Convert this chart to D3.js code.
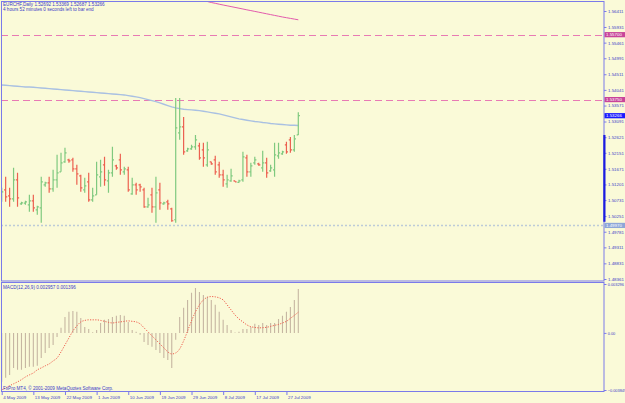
<!DOCTYPE html>
<html>
<head>
<meta charset="utf-8">
<script src="https://cdn.jsdelivr.net/npm/d3@7"></script>
<style>
  body { margin: 0; background: #fafad8; }
  svg { display: block; font-family: "Liberation Sans", Arial, sans-serif; }
</style>
</head>
<body>
<svg id="chart" width="625" height="403"></svg>
<script>

// EURCHF daily bars, 4 May 2009 .. 30 Jul 2009 (broker shows sunday bars)
var dateLabels = ["4 May 2009", "13 May 2009", "22 May 2009", "1 Jun 2009", "10 Jun 2009",
                  "19 Jun 2009", "29 Jun 2009", "8 Jul 2009", "17 Jul 2009", "27 Jul 2009"];
var dateTickBars = [0, 8, 16, 24, 32, 40, 48, 56, 64, 72];

var openP = [1.5080,1.5104,1.5086,1.5077,1.5134,1.5062,1.5064,1.5059,1.5071,1.5044,
  1.5050,1.5119,1.5125,1.5107,1.5134,1.5158,1.5188,1.5194,1.5194,1.5167,
  1.5146,1.5104,1.5128,1.5074,1.5089,1.5143,1.5179,1.5131,1.5155,1.5176,
  1.5194,1.5158,1.5164,1.5092,1.5119,1.5119,1.5104,1.5053,1.5089,1.5053,
  1.5104,1.5062,1.5068,1.5047,1.5014,1.5275,1.5293,1.5221,1.5227,1.5233,
  1.5236,1.5224,1.5179,1.5188,1.5194,1.5179,1.5149,1.5122,1.5131,1.5131,
  1.51265,1.5134,1.5200,1.5158,1.5185,1.5182,1.5170,1.5185,1.5161,1.5164,
  1.5206,1.5212,1.5239,1.5254,1.5224,1.52692];
var highP = [1.5110,1.5143,1.5110,1.5170,1.5155,1.5068,1.5071,1.5089,1.5089,1.5056,
  1.5143,1.5128,1.5143,1.5164,1.5209,1.5215,1.5230,1.5197,1.5200,1.5179,
  1.5149,1.5140,1.5155,1.5110,1.5188,1.5194,1.5203,1.5164,1.5233,1.5179,
  1.5212,1.5173,1.5173,1.5140,1.5125,1.5122,1.5110,1.5080,1.5110,1.5143,
  1.5125,1.5068,1.5074,1.5050,1.5380,1.5380,1.5323,1.5230,1.5239,1.5269,
  1.5245,1.5245,1.5248,1.5188,1.5206,1.5188,1.5164,1.5149,1.5167,1.5131,
  1.5134,1.5218,1.5209,1.5185,1.5203,1.5185,1.5221,1.5200,1.5179,1.5245,
  1.5245,1.5221,1.5248,1.5263,1.5269,1.53369];
var lowP = [1.5068,1.5068,1.5053,1.5068,1.5053,1.5059,1.5059,1.5038,1.5038,1.5029,
  1.5005,1.5113,1.5095,1.5098,1.5110,1.5158,1.5185,1.5185,1.5158,1.5119,
  1.5098,1.5095,1.5068,1.5068,1.5089,1.5113,1.5116,1.5095,1.5143,1.5164,
  1.5149,1.5149,1.5098,1.5089,1.5089,1.5098,1.5050,1.5050,1.5035,1.5005,
  1.5044,1.5059,1.5044,1.5008,1.5005,1.5254,1.5209,1.5218,1.5224,1.5224,
  1.5194,1.5173,1.5173,1.5179,1.5149,1.5140,1.5113,1.5110,1.5128,1.5128,
  1.5125,1.5128,1.5143,1.5143,1.5179,1.5176,1.5158,1.5140,1.5158,1.5143,
  1.5197,1.5209,1.5212,1.5215,1.5218,1.52687];
var closeP = [1.5098,1.5083,1.5077,1.5134,1.5080,1.5065,1.5068,1.5071,1.5050,1.5053,
  1.5128,1.5125,1.5107,1.5134,1.5155,1.5185,1.5215,1.5191,1.5167,1.5152,
  1.5110,1.5116,1.5074,1.5086,1.5149,1.5158,1.5134,1.5155,1.5194,1.5170,
  1.5164,1.5167,1.5104,1.5119,1.5104,1.5113,1.5053,1.5059,1.5053,1.5095,
  1.5065,1.5065,1.5062,1.5011,1.5290,1.5293,1.5218,1.5227,1.5233,1.5254,
  1.5200,1.5200,1.5224,1.5182,1.5158,1.5149,1.5134,1.5134,1.5146,1.5128,
  1.5131,1.5203,1.5158,1.5176,1.5194,1.5179,1.5185,1.5155,1.5170,1.5209,
  1.5215,1.5218,1.5218,1.5224,1.5257,1.53266];

// light blue moving average
var maBlue = [1.5419,1.5418,1.5417,1.5416,1.5415,1.5414,1.5413,1.5413,1.5412,1.5411,
  1.5410,1.5409,1.5408,1.5407,1.5406,1.5405,1.5404,1.5403,1.5402,1.5401,
  1.5400,1.5399,1.5398,1.5397,1.5396,1.5395,1.5394,1.5393,1.5392,1.5391,
  1.5390,1.5389,1.5387,1.5385,1.5383,1.5381,1.5378,1.5375,1.5372,1.5369,
  1.5365,1.5361,1.5357,1.5353,1.5350,1.5348,1.5346,1.5345,1.5344,1.5343,
  1.5342,1.5340,1.5338,1.5336,1.5334,1.5332,1.5329,1.5326,1.5323,1.5320,
  1.5317,1.5315,1.5313,1.5311,1.5309,1.5308,1.5306,1.5305,1.5303,1.5302,
  1.5301,1.5300,1.5299,1.5298,1.5298,1.5297];

// magenta moving average, only the end of it is inside the window
var maPinkStart = 48;
var maPink = [1.56862,1.56817,1.56771,1.56726,1.56696,1.56666,1.56642,1.56615,1.56591,1.56567,
  1.56543,1.56519,1.56495,1.56471,1.56446,1.56423,1.56399,1.56375,1.56351,1.56327,
  1.56303,1.56279,1.56255,1.56231,1.56210,1.56189,1.56168,1.56147];

var levelsPink = [1.55700, 1.53750];
var levelDotted = 1.49970;
var lastPrice = 1.53266;

var priceTicks = [1.56411,1.55931,1.55461,1.54991,1.54511,1.54041,1.53571,1.53091,1.52621,
  1.52151,1.51671,1.51201,1.50731,1.50251,1.49781,1.49311,1.48831,1.48361];

// MACD(12,26,9): main as histogram, signal dotted
var macdMain = [-0.00330,-0.00303,-0.00283,-0.00236,-0.00249,-0.00249,-0.00236,-0.00229,-0.00229,-0.00222,
  -0.00169,-0.00135,-0.00101,-0.00081,-0.00027,0.00034,0.00108,0.00142,0.00148,0.00142,
  0.00101,0.00040,0.00027,0.00005,0.00020,0.00067,0.00088,0.00094,0.00108,0.00115,
  0.00121,0.00115,0.00074,0.00020,0.00008,-0.00013,-0.00061,-0.00081,-0.00094,-0.00115,
  -0.00135,-0.00169,-0.00182,-0.00236,-0.00047,0.00108,0.00169,0.00222,0.00270,0.00303,
  0.00276,0.00256,0.00243,0.00222,0.00189,0.00142,0.00088,0.00054,0.00020,0.00003,
  0.00007,0.00027,0.00027,0.00040,0.00061,0.00054,0.00067,0.00054,0.00067,0.00067,
  0.00094,0.00115,0.00142,0.00175,0.00222,0.002957];
var macdSignal = [-0.00384,-0.00370,-0.00356,-0.00343,-0.00330,-0.00315,-0.00297,-0.00283,-0.00270,-0.00249,
  -0.00236,-0.00222,-0.00209,-0.00189,-0.00169,-0.00128,-0.00081,-0.00034,0.00013,0.00047,
  0.00074,0.00084,0.00088,0.00088,0.00088,0.00084,0.00078,0.00071,0.00067,0.00071,
  0.00074,0.00078,0.00081,0.00078,0.00074,0.00061,0.00034,0.00007,-0.00020,-0.00047,
  -0.00074,-0.00101,-0.00128,-0.00142,-0.00135,-0.00108,-0.00054,0.00013,0.00081,0.00142,
  0.00189,0.00222,0.00240,0.00245,0.00243,0.00236,0.00222,0.00189,0.00155,0.00121,
  0.00094,0.00074,0.00054,0.00042,0.00037,0.00034,0.00035,0.00038,0.00044,0.00051,
  0.00057,0.00067,0.00078,0.00098,0.00118,0.001396];
var macdTicks = [0.003296, 0, -0.003849];

var svg = d3.select("#chart");
var frame = "#7a7aea", txt = "#3c3cc8";

var x = d3.scaleLinear().domain([0, 75]).range([1.7, 298.3]);
var y = d3.scaleLinear().domain([1.48361, 1.56411]).range([279, 11]);
var ym = d3.scaleLinear().domain([-0.003849, 0.003296]).range([390, 284]);

svg.append("rect").attr("width", 625).attr("height", 403).attr("fill", "#fafad8");

var defs = svg.append("defs");
defs.append("clipPath").attr("id", "clipMain")
  .append("rect").attr("x", 1.5).attr("y", 1.5).attr("width", 602.5).attr("height", 279.5);
defs.append("clipPath").attr("id", "clipMacd")
  .append("rect").attr("x", 1.5).attr("y", 282.5).attr("width", 602.5).attr("height", 109);

var main = svg.append("g").attr("clip-path", "url(#clipMain)");

// horizontal levels
main.selectAll("line.lvl")
  .data(levelsPink)
  .enter().append("line")
  .attr("class", "lvl")
  .attr("x1", 1).attr("x2", 604)
  .attr("y1", function(d) { return Math.round(y(d)) + 0.5; })
  .attr("y2", function(d) { return Math.round(y(d)) + 0.5; })
  .attr("stroke", "#e87ab4").attr("stroke-width", 1)
  .attr("stroke-dasharray", "7,4");

main.append("line")
  .attr("x1", 1).attr("x2", 604)
  .attr("y1", y(levelDotted)).attr("y2", y(levelDotted))
  .attr("stroke", "#bccbd8").attr("stroke-width", 1.6)
  .attr("stroke-dasharray", "2,2");

var line = d3.line()
  .x(function(d, i) { return x(i); })
  .y(function(d) { return y(d); });

main.append("path")
  .datum(maBlue)
  .attr("d", line)
  .attr("fill", "none").attr("stroke", "#a9c0e2").attr("stroke-width", 1.4);

main.append("path")
  .datum(maPink)
  .attr("d", d3.line()
    .x(function(d, i) { return x(i + maPinkStart); })
    .y(function(d) { return y(d); }))
  .attr("fill", "none").attr("stroke", "#e25aac").attr("stroke-width", 1);

// ohlc bars
var bars = main.append("g").attr("class", "bars")
  .selectAll("g")
  .data(d3.range(openP.length))
  .enter().append("g")
  .attr("stroke", function(i) { return closeP[i] >= openP[i] ? "#7fc97f" : "#ec6050"; })
  .attr("stroke-width", 1.2);

bars.append("line")
  .attr("x1", function(i) { return x(i); }).attr("x2", function(i) { return x(i); })
  .attr("y1", function(i) { return y(highP[i]); })
  .attr("y2", function(i) { return y(lowP[i]); });
bars.append("line")
  .attr("x1", function(i) { return x(i) - 1.6; }).attr("x2", function(i) { return x(i); })
  .attr("y1", function(i) { return y(openP[i]); })
  .attr("y2", function(i) { return y(openP[i]); });
bars.append("line")
  .attr("x1", function(i) { return x(i); }).attr("x2", function(i) { return x(i) + 1.6; })
  .attr("y1", function(i) { return y(closeP[i]); })
  .attr("y2", function(i) { return y(closeP[i]); });

// MACD window
var macd = svg.append("g").attr("clip-path", "url(#clipMacd)");

macd.selectAll("line.hist")
  .data(macdMain)
  .enter().append("line")
  .attr("class", "hist")
  .attr("x1", function(d, i) { return x(i); }).attr("x2", function(d, i) { return x(i); })
  .attr("y1", ym(0))
  .attr("y2", function(d) { return ym(d); })
  .attr("stroke", "#c6b6a2").attr("stroke-width", 1.1);

macd.append("path")
  .datum(macdSignal)
  .attr("d", d3.line()
    .x(function(d, i) { return x(i); })
    .y(function(d) { return ym(d); })
    .curve(d3.curveMonotoneX))
  .attr("fill", "none").attr("stroke", "#ee5d4d").attr("stroke-width", 1)
  .attr("stroke-dasharray", "1.2,1.4");

// frames
svg.append("rect").attr("x", 1.5).attr("y", 1.5).attr("width", 602.5).attr("height", 279.5)
  .attr("fill", "none").attr("stroke", frame);
svg.append("rect").attr("x", 1.5).attr("y", 282.5).attr("width", 602.5).attr("height", 109)
  .attr("fill", "none").attr("stroke", frame);

// price axis
var yAxis = svg.append("g")
  .attr("transform", "translate(604,0)")
  .call(d3.axisRight(y).tickValues(priceTicks).tickSize(2.5).tickPadding(1.5)
    .tickFormat(d3.format(".5f")));
var macdAxis = svg.append("g")
  .attr("transform", "translate(604,0)")
  .call(d3.axisRight(ym).tickValues(macdTicks).tickSize(2.5).tickPadding(1.2)
    .tickFormat(function(d) { return d === 0 ? "0.00" : d3.format(".6f")(d); }));

var xAxis = svg.append("g")
  .attr("transform", "translate(0,392)")
  .call(d3.axisBottom(x).tickValues(dateTickBars).tickSize(3)
    .tickFormat(function(d, i) { return dateLabels[i]; }));
xAxis.selectAll("text").attr("text-anchor", "start").attr("x", 1).attr("y", 3.5);

[yAxis, macdAxis, xAxis].forEach(function(a) {
  a.select(".domain").remove();
  a.selectAll("line").attr("stroke", frame);
  a.selectAll("text").attr("fill", txt).style("font-size", "4.4px")
    .style("font-family", "'Liberation Sans', Arial, sans-serif");
});
macdAxis.selectAll("text").style("font-size", "3.9px");

// thick marker on the price scale
svg.append("rect").attr("x", 603.3).attr("y", y(lastPrice - 0.00579)).attr("width", 2.2)
  .attr("height", y(1.5008) - y(lastPrice - 0.00579)).attr("fill", "#1c1ce0");

// price boxes on the scale
var boxes = [
  { v: levelsPink[0], fill: "#c8449a" },
  { v: levelsPink[1], fill: "#c8449a" },
  { v: lastPrice, fill: "#1a1aff" },
  { v: levelDotted, fill: "#8ea6d8" }
];
var box = svg.selectAll("g.box").data(boxes).enter().append("g").attr("class", "box");
box.append("rect")
  .attr("x", 604.5).attr("width", 20.5).attr("height", 5.2)
  .attr("y", function(d) { return y(d.v) - 2.6; })
  .attr("fill", function(d) { return d.fill; });
box.append("text")
  .attr("x", 606).attr("y", function(d) { return y(d.v) + 1.6; })
  .attr("fill", "#ffffff").style("font-size", "4.4px")
  .text(function(d) { return d3.format(".5f")(d.v); });

// texts
function label(tx, ty, s) {
  svg.append("text").attr("x", tx).attr("y", ty).attr("fill", txt)
    .style("font-size", "4.6px").text(s);
}
label(3, 6, "EURCHF,Daily  1.52692 1.53369 1.52687 1.53266");
label(3, 11, "4 hours 52 minutes 0 seconds left to bar end");
label(3, 289, "MACD(12,26,9) 0.002957 0.001396");
label(3, 390, "FxPro MT4, \u00a9 2001-2009 MetaQuotes Software Corp.");

</script>
</body>
</html>
